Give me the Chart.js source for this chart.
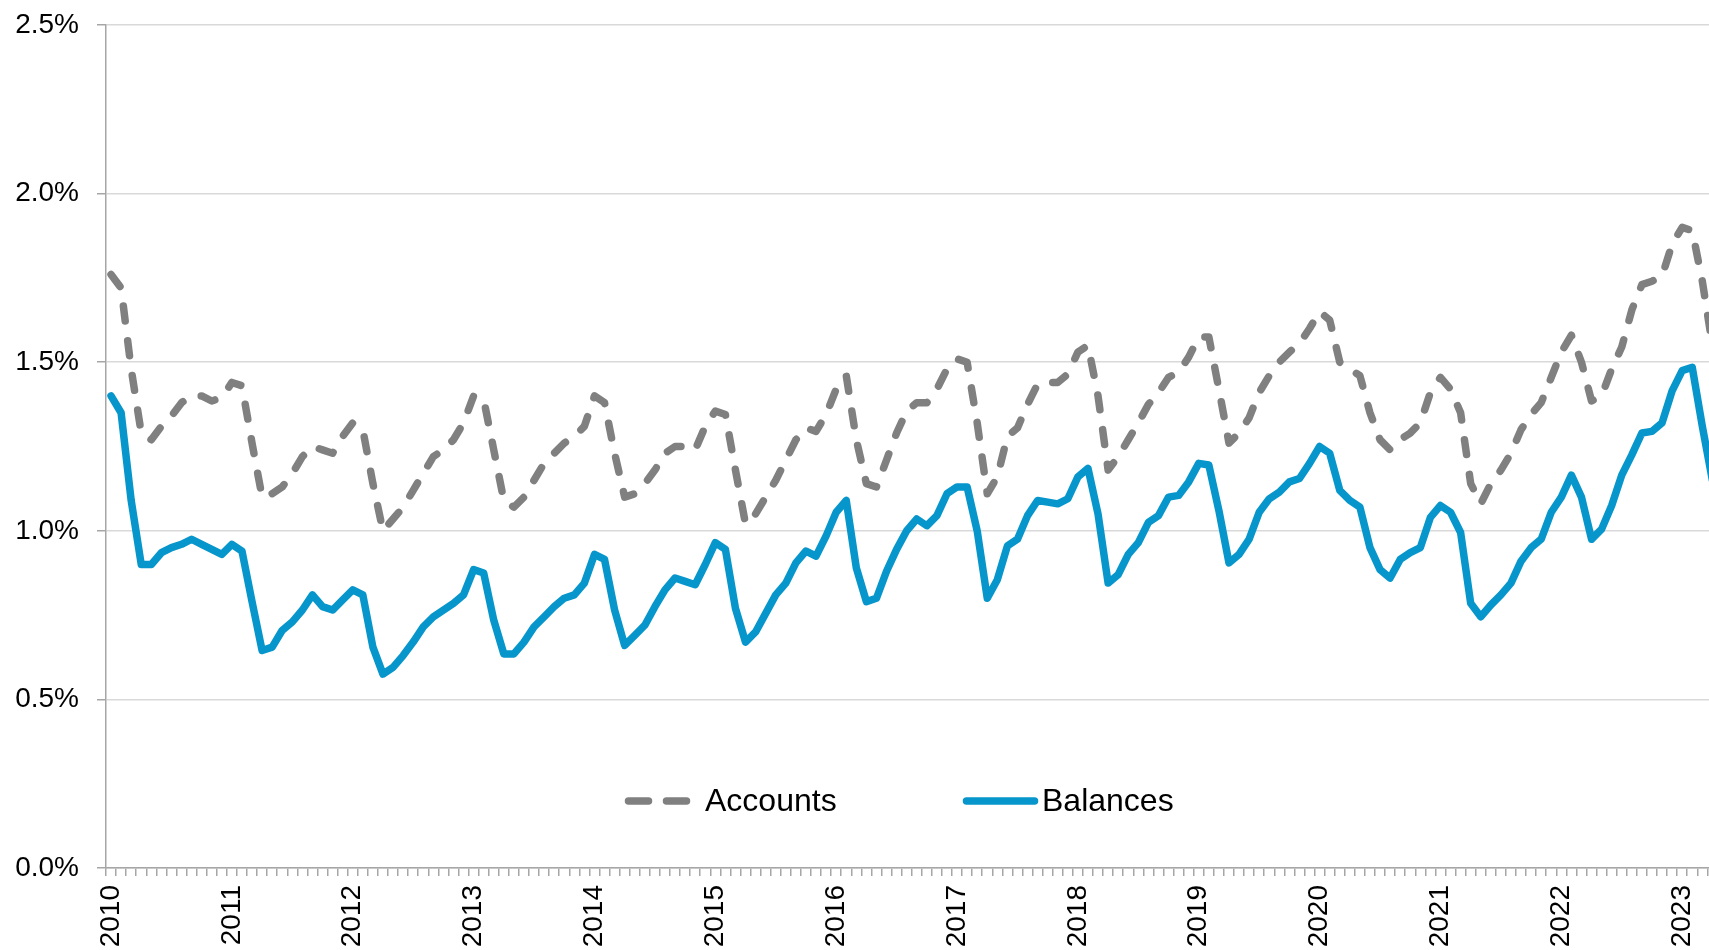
<!DOCTYPE html>
<html>
<head>
<meta charset="utf-8">
<script src="https://cdn.jsdelivr.net/npm/chart.js@4/dist/chart.umd.min.js"></script>
<style>
  html, body { margin: 0; padding: 0; background: #fff; overflow: hidden; }
  #wrap { width: 1709px; height: 950px; overflow: hidden; }
</style>
</head>
<body>
<div id="wrap"><canvas id="chart" width="1755" height="950"></canvas></div>
<script>
// monthly, Jan 2010 .. Apr 2023 (the last point falls just past the right edge)
const years = ['2010', '2011', '2012', '2013', '2014', '2015', '2016', '2017', '2018', '2019', '2020', '2021', '2022', '2023'];
const months = ['Jan', 'Feb', 'Mar', 'Apr', 'May', 'Jun', 'Jul', 'Aug', 'Sep', 'Oct', 'Nov', 'Dec'];
const monthCount = 160;
const yTicks = [0, 0.5, 1.0, 1.5, 2.0, 2.5];

const accounts = [
  1.76, 1.72, 1.48, 1.29, 1.27, 1.31, 1.34, 1.38, 1.40, 1.40, 1.385, 1.395,
  1.44, 1.43, 1.26, 1.10, 1.11, 1.13, 1.17, 1.22, 1.25, 1.24, 1.23, 1.28,
  1.32, 1.30, 1.14, 1.00, 1.035, 1.07, 1.12, 1.17, 1.22, 1.24, 1.27, 1.32,
  1.40, 1.39, 1.24, 1.09, 1.07, 1.10, 1.15, 1.20, 1.23, 1.26, 1.28, 1.31,
  1.40, 1.38, 1.23, 1.10, 1.11, 1.14, 1.18, 1.23, 1.25, 1.25, 1.24, 1.31,
  1.355, 1.345, 1.18, 1.02, 1.05, 1.10, 1.15, 1.21, 1.27, 1.305, 1.295, 1.345,
  1.42, 1.46, 1.27, 1.14, 1.13, 1.21, 1.29, 1.355, 1.38, 1.38, 1.42, 1.48,
  1.51, 1.50, 1.32, 1.11, 1.16, 1.28, 1.305, 1.375, 1.435, 1.44, 1.44, 1.465,
  1.53, 1.55, 1.40, 1.18, 1.22, 1.27, 1.32, 1.375, 1.41, 1.455, 1.47, 1.515,
  1.575, 1.575, 1.42, 1.26, 1.29, 1.335, 1.41, 1.46, 1.50, 1.53, 1.555, 1.60,
  1.65, 1.625, 1.50, 1.48, 1.46, 1.35, 1.27, 1.24, 1.27, 1.29, 1.32, 1.41,
  1.455, 1.42, 1.35, 1.14, 1.08, 1.14, 1.18, 1.23, 1.30, 1.345, 1.38, 1.455,
  1.53, 1.58, 1.50, 1.385, 1.40, 1.48, 1.545, 1.655, 1.73, 1.74, 1.755, 1.85,
  1.90, 1.89, 1.74, 1.55
];

const balances = [
  1.40, 1.35, 1.09, 0.90, 0.90, 0.935, 0.95, 0.96, 0.975, 0.96, 0.945, 0.93,
  0.96, 0.94, 0.79, 0.645, 0.655, 0.705, 0.73, 0.765, 0.81, 0.775, 0.765, 0.795,
  0.825, 0.81, 0.655, 0.575, 0.595, 0.63, 0.67, 0.715, 0.745, 0.765, 0.785, 0.81,
  0.885, 0.875, 0.735, 0.635, 0.635, 0.67, 0.715, 0.745, 0.775, 0.80, 0.81, 0.845,
  0.93, 0.915, 0.765, 0.66, 0.69, 0.72, 0.775, 0.825, 0.86, 0.85, 0.84, 0.90,
  0.965, 0.945, 0.77, 0.67, 0.70, 0.755, 0.81, 0.845, 0.905, 0.94, 0.925, 0.985,
  1.055, 1.09, 0.89, 0.79, 0.80, 0.88, 0.945, 1.00, 1.035, 1.015, 1.045, 1.11,
  1.13, 1.13, 1.00, 0.80, 0.855, 0.955, 0.975, 1.045, 1.09, 1.085, 1.08, 1.095,
  1.16, 1.185, 1.05, 0.845, 0.87, 0.93, 0.965, 1.025, 1.045, 1.10, 1.105, 1.145,
  1.20, 1.195, 1.06, 0.905, 0.93, 0.975, 1.055, 1.095, 1.115, 1.145, 1.155, 1.20,
  1.25, 1.23, 1.12, 1.09, 1.07, 0.95, 0.885, 0.86, 0.915, 0.935, 0.95, 1.04,
  1.075, 1.055, 0.995, 0.785, 0.745, 0.78, 0.81, 0.845, 0.91, 0.95, 0.975, 1.055,
  1.10, 1.165, 1.10, 0.975, 1.005, 1.075, 1.165, 1.225, 1.29, 1.295, 1.32, 1.415,
  1.475, 1.485, 1.31, 1.15
];

const labels = [];
for (let i = 0; i < monthCount; i++) {
  labels.push(months[i % 12] + ' ' + years[Math.floor(i / 12)]);
}

const FONT = "'Liberation Sans', Arial, sans-serif";
const GRAY = '#808080';
const BLUE = '#0796cb';

// legend sits inside the plot area, near the bottom
const innerLegend = {
  id: 'innerLegend',
  afterDatasetsDraw(chart) {
    const ctx = chart.ctx;
    const area = chart.chartArea;
    const y = area.bottom - 67;
    const items = [
      { ds: chart.data.datasets[0], x0: 628.5, x1: 686.5, tx: 705 },
      { ds: chart.data.datasets[1], x0: 966.5, x1: 1034.5, tx: 1042 }
    ];
    ctx.save();
    items.forEach(it => {
      ctx.beginPath();
      ctx.lineWidth = 7.5;
      ctx.lineCap = 'round';
      ctx.strokeStyle = it.ds.borderColor;
      ctx.setLineDash(it.ds.borderDash && it.ds.borderDash.length ? [20, 18] : []);
      ctx.moveTo(it.x0, y);
      ctx.lineTo(it.x1, y);
      ctx.stroke();
      ctx.setLineDash([]);
      ctx.fillStyle = '#000';
      ctx.font = '32px ' + FONT;
      ctx.textBaseline = 'middle';
      ctx.textAlign = 'left';
      ctx.fillText(it.ds.label, it.tx, y + 1);
    });
    ctx.restore();
  }
};

new Chart(document.getElementById('chart'), {
  type: 'line',
  data: {
    labels: labels,
    datasets: [
      {
        label: 'Accounts',
        data: accounts,
        borderColor: GRAY,
        borderWidth: 7.5,
        borderDash: [15, 20],
        borderCapStyle: 'round',
        borderJoinStyle: 'round',
        pointRadius: 0,
        tension: 0,
        fill: false
      },
      {
        label: 'Balances',
        data: balances,
        borderColor: BLUE,
        borderWidth: 7.5,
        borderCapStyle: 'round',
        borderJoinStyle: 'round',
        pointRadius: 0,
        tension: 0,
        fill: false
      }
    ]
  },
  options: {
    responsive: false,
    animation: false,
    layout: { padding: { top: 23, right: 0, left: 0, bottom: 0 } },
    plugins: {
      legend: { display: false },
      tooltip: { enabled: false }
    },
    scales: {
      x: {
        type: 'category',
        offset: true,
        grid: {
          offset: true,
          drawOnChartArea: false,
          drawTicks: true,
          tickLength: 8,
          tickColor: '#a6a6a6',
          lineWidth: 1.5
        },
        border: { color: '#a6a6a6', width: 1.5 },
        ticks: {
          autoSkip: false,
          maxRotation: 90,
          minRotation: 90,
          padding: 9,
          color: '#000',
          font: { family: FONT, size: 28 },
          callback: function (val, i) {
            return i % 12 === 0 ? years[i / 12] : '';
          }
        },
        afterFit: s => { s.height = 82; }
      },
      y: {
        min: yTicks[0],
        max: yTicks[yTicks.length - 1],
        afterBuildTicks: s => { s.ticks = yTicks.map(v => ({ value: v })); },
        grid: {
          color: '#d9d9d9',
          lineWidth: 1.5,
          tickLength: 9,
          tickColor: '#a6a6a6'
        },
        border: { color: '#a6a6a6', width: 1.5 },
        ticks: {
          padding: 18,
          color: '#000',
          font: { family: FONT, size: 28, lineHeight: 0.5 },
          callback: v => v.toFixed(1) + '%'
        },
        afterFit: s => { s.width = 106; }
      }
    }
  },
  plugins: [innerLegend]
});
</script>
</body>
</html>
